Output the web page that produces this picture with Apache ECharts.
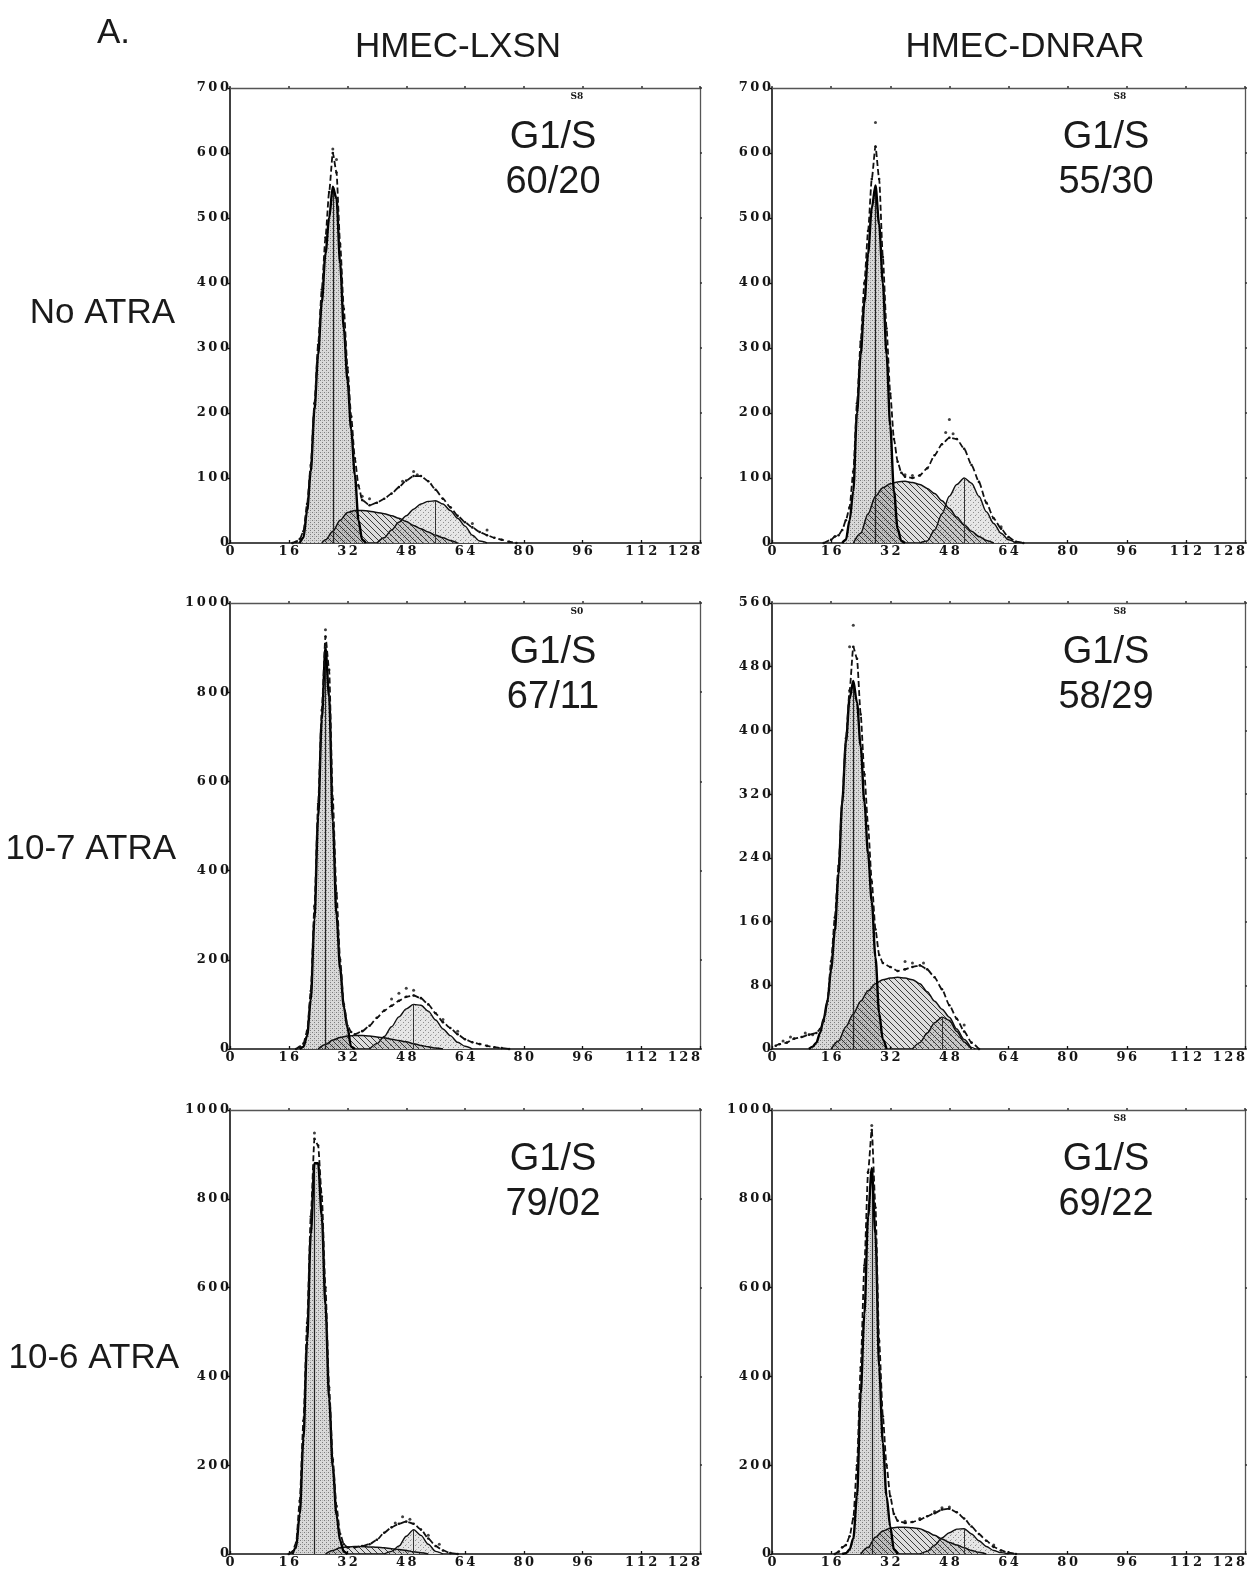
<!DOCTYPE html>
<html><head><meta charset="utf-8">
<script src="https://cdn.jsdelivr.net/npm/echarts@6/dist/echarts.min.js"></script>
<style>html,body{margin:0;padding:0;background:#fff}#c{width:1255px;height:1578px}</style>
</head><body><div id="c"></div>
<script>
// ---------- labels ----------
const xTickStep = 16;
const xMax = 128;
const columns = ['HMEC-LXSN', 'HMEC-DNRAR'];
const rows = ['No ATRA', '10-7 ATRA', '10-6 ATRA'];
const ratios = ['60/20', '55/30', '67/11', '58/29', '79/02', '69/22'];
const corner = ['S8', 'S8', 'S0', 'S8', '', 'S8'];
const yMax = [700, 700, 1000, 560, 1000, 1000];
const yStep = [100, 100, 200, 80, 200, 200];

// ---------- data: [channel, count] ----------
// HMEC-LXSN, No ATRA
const lxsnNo_g1 = [[19,0],[20,8],[21,50],[22,110],[23,205],[24,290],[25,370],[26,445],[27,500],[28,548],[29,530],[30,430],[31,330],[32,250],[33,175],[34,105],[35,35],[36,5],[37,0]];
const lxsnNo_s = [[25,0],[26,5],[28,18],[30,35],[32,47],[34,50],[36,50],[38,49],[40,47],[42,45],[44,42],[46,38],[48,33],[50,27],[52,22],[54,17],[56,12],[58,8],[60,4],[62,0]];
const lxsnNo_g2 = [[40,0],[42,8],[44,20],[46,32],[48,42],[50,52],[52,60],[54,64],[56,65],[58,60],[60,50],[62,38],[64,26],[66,12],[68,3],[70,0]];
const lxsnNo_fit = [[17,0],[18,2],[19,6],[20,18],[21,60],[22,120],[23,215],[24,305],[25,390],[26,470],[27,540],[28,600],[29,570],[30,460],[31,360],[32,270],[33,195],[34,130],[35,88],[36,66],[38,58],[40,62],[42,68],[44,76],[46,86],[48,96],[50,103],[52,103],[54,95],[56,82],[58,68],[60,55],[62,42],[64,32],[66,24],[68,17],[70,12],[72,8],[74,5],[76,2],[78,0]];
const lxsnNo_dots = [[28,606],[29,590],[50,110],[51,105],[47,95],[36,72],[38,68],[66,30],[70,20]];

// HMEC-DNRAR, No ATRA
const dnrarNo_g1 = [[19,0],[20,5],[21,35],[22,80],[23,200],[24,290],[25,370],[26,445],[27,515],[28,550],[29,490],[30,400],[31,290],[32,180],[33,80],[34,22],[35,3],[36,0]];
const dnrarNo_s = [[22,0],[24,15],[26,45],[28,72],[30,85],[32,91],[34,94],[36,95],[38,93],[40,90],[42,84],[44,76],[46,65],[48,53],[50,40],[52,28],[54,18],[56,10],[58,4],[60,0]];
const dnrarNo_g2 = [[40,0],[42,3],[44,20],[46,45],[48,72],[50,90],[52,100],[54,92],[56,72],[58,48],[60,30],[62,15],[64,5],[66,0]];
const dnrarNo_fit = [[14,0],[16,5],[17,10],[18,12],[19,20],[20,35],[21,55],[22,110],[23,215],[24,310],[25,400],[26,480],[27,560],[28,610],[29,560],[30,440],[31,330],[32,230],[33,160],[34,125],[35,108],[36,102],[38,100],[40,104],[42,115],[44,135],[46,152],[48,162],[50,160],[52,145],[54,120],[56,94],[58,62],[60,38],[62,22],[64,9],[66,2],[68,0]];
const dnrarNo_dots = [[28,647],[48,190],[47,170],[49,168],[36,105],[38,104],[62,25]];

// HMEC-LXSN, 10-7 ATRA
const lxsn7_g1 = [[19,0],[20,5],[21,30],[22,110],[23,290],[24,520],[25,740],[26,900],[27,790],[28,510],[29,300],[30,180],[31,95],[32,47],[33,5],[34,0]];
const lxsn7_s = [[24,0],[26,10],[28,20],[30,26],[32,29],[34,30],[36,30],[38,29],[40,27],[42,25],[44,22],[46,19],[48,16],[50,12],[52,8],[54,5],[56,2],[58,0]];
const lxsn7_g2 = [[38,0],[40,12],[42,28],[44,50],[46,72],[48,90],[50,100],[52,98],[54,85],[56,65],[58,45],[60,30],[62,15],[64,6],[66,0]];
const lxsn7_fit = [[18,0],[19,5],[20,12],[21,40],[22,130],[23,320],[24,550],[25,760],[26,925],[27,850],[28,560],[29,350],[30,200],[31,100],[32,52],[33,38],[34,33],[36,40],[38,52],[40,70],[42,86],[44,97],[46,108],[48,117],[50,120],[52,114],[54,100],[56,80],[58,60],[60,47],[62,33],[64,22],[66,15],[68,11],[70,7],[72,4],[74,2],[76,0]];
const lxsn7_dots = [[26,940],[48,136],[50,132],[46,125],[44,112],[58,66],[62,40]];

// HMEC-DNRAR, 10-7 ATRA
const dnrar7_g1 = [[10,0],[11,3],[12,8],[13,20],[14,38],[15,60],[16,100],[17,148],[18,220],[19,310],[20,385],[21,440],[22,462],[23,435],[24,380],[25,310],[26,245],[27,185],[28,115],[29,45],[30,12],[31,0]];
const dnrar7_s = [[16,0],[18,10],[20,28],[22,44],[24,60],[26,73],[28,82],[30,87],[32,89],[34,90],[36,89],[38,87],[40,82],[42,72],[44,60],[46,50],[48,40],[50,25],[52,12],[54,0]];
const dnrar7_g2 = [[38,0],[40,8],[42,20],[44,33],[46,40],[48,36],[50,22],[52,9],[54,2],[55,0]];
const dnrar7_fit = [[1,4],[2,6],[4,8],[6,13],[8,15],[10,18],[12,20],[13,25],[14,35],[15,60],[16,110],[17,165],[18,230],[19,310],[20,390],[21,450],[22,505],[23,490],[24,420],[25,345],[26,280],[27,210],[28,150],[29,118],[30,108],[32,103],[34,98],[36,100],[38,103],[40,105],[42,100],[44,90],[46,75],[48,55],[50,38],[52,22],[54,8],[56,0]];
const dnrar7_dots = [[22,532],[21,505],[3,10],[5,15],[9,20],[11,18],[36,110],[38,108],[41,108],[52,30]];

// HMEC-LXSN, 10-6 ATRA
const lxsn6_g1 = [[17,0],[18,15],[19,90],[20,260],[21,480],[22,720],[23,880],[24,880],[25,760],[26,560],[27,350],[28,195],[29,88],[30,30],[31,5],[32,0]];
const lxsn6_s = [[26,0],[28,8],[30,14],[32,16],[34,17],[36,17],[38,16],[40,15],[42,14],[44,12],[46,10],[48,8],[50,5],[52,3],[54,0]];
const lxsn6_g2 = [[42,0],[44,6],[46,18],[48,40],[50,55],[52,42],[54,22],[56,6],[58,0]];
const lxsn6_fit = [[16,0],[17,5],[18,25],[19,120],[20,300],[21,520],[22,760],[23,935],[24,920],[25,805],[26,600],[27,375],[28,212],[29,108],[30,45],[31,22],[32,15],[34,15],[36,18],[38,22],[40,32],[42,48],[44,60],[46,68],[48,73],[50,68],[52,55],[54,35],[56,18],[58,8],[60,2],[62,0]];
const lxsn6_dots = [[23,948],[47,84],[49,78],[45,70],[54,42],[57,22]];

// HMEC-DNRAR, 10-6 ATRA
const dnrar6_g1 = [[19,0],[20,2],[21,10],[22,35],[23,130],[24,360],[25,540],[26,760],[27,869],[28,720],[29,420],[30,250],[31,130],[32,62],[33,10],[34,0]];
const dnrar6_s = [[24,0],[26,15],[28,38],[30,52],[32,58],[34,60],[36,60],[38,59],[40,57],[42,50],[44,42],[46,34],[48,26],[50,20],[52,14],[54,8],[56,4],[58,0]];
const dnrar6_g2 = [[40,0],[42,6],[44,20],[46,36],[48,48],[50,56],[52,57],[54,45],[56,30],[58,17],[60,8],[62,3],[64,0]];
const dnrar6_fit = [[17,0],[18,5],[19,15],[20,20],[21,40],[22,80],[23,200],[24,420],[25,650],[26,860],[27,955],[28,780],[29,480],[30,310],[31,200],[32,130],[33,90],[34,75],[36,70],[38,72],[40,77],[42,85],[44,92],[46,100],[48,102],[50,94],[52,80],[54,62],[56,45],[58,30],[60,16],[62,8],[64,3],[66,0]];
const dnrar6_dots = [[27,965],[48,106],[46,104],[44,96],[36,74],[40,80],[60,20]];

const panels = [
  {g1: lxsnNo_g1, s: lxsnNo_s, g2: lxsnNo_g2, fit: lxsnNo_fit, dots: lxsnNo_dots},
  {g1: dnrarNo_g1, s: dnrarNo_s, g2: dnrarNo_g2, fit: dnrarNo_fit, dots: dnrarNo_dots},
  {g1: lxsn7_g1, s: lxsn7_s, g2: lxsn7_g2, fit: lxsn7_fit, dots: lxsn7_dots},
  {g1: dnrar7_g1, s: dnrar7_s, g2: dnrar7_g2, fit: dnrar7_fit, dots: dnrar7_dots},
  {g1: lxsn6_g1, s: lxsn6_s, g2: lxsn6_g2, fit: lxsn6_fit, dots: lxsn6_dots},
  {g1: dnrar6_g1, s: dnrar6_s, g2: dnrar6_g2, fit: dnrar6_fit, dots: dnrar6_dots}
];

// ---------- layout ----------
const colLeft = [230, 772];
const colWidth = [470, 473];
const rowTop = [88, 603, 1110];
const rowHeight = [455, 446, 444];

// ---------- patterns ----------
function makePattern(w, h, draw) {
  const c = document.createElement('canvas');
  c.width = w; c.height = h;
  const g = c.getContext('2d');
  draw(g);
  return {image: c, repeat: 'repeat'};
}
const patG1 = makePattern(4, 4, g => {
  g.fillStyle = '#d9d9d9'; g.fillRect(0, 0, 4, 4);
  g.fillStyle = '#7c7c7c'; g.fillRect(0, 0, 1, 1); g.fillRect(2, 2, 1, 1);
  g.fillStyle = '#b4b4b4'; g.fillRect(2, 0, 1, 1);
});
const patG2 = makePattern(5, 5, g => {
  g.fillStyle = '#e6e6e6'; g.fillRect(0, 0, 5, 5);
  g.fillStyle = '#8e8e8e'; g.fillRect(0, 0, 1, 1); g.fillRect(3, 2, 1, 1);
  g.fillStyle = '#b8b8b8'; g.fillRect(1, 4, 1, 1);
});
const patS = makePattern(6, 6, g => {
  g.fillStyle = 'rgba(0,0,0,0.13)'; g.fillRect(0, 0, 6, 6);
  g.fillStyle = 'rgba(30,30,30,0.85)';
  for (let k = 0; k < 6; k++) g.fillRect(k, k, 1, 1);
});

// spaced-out digits, like the wide bitmap font of the original
const spaced = v => String(v).split('').join('\u2009');
const labelFont = {fontFamily: 'DejaVu Serif', fontWeight: 'bold', fontSize: 13, color: '#151515', formatter: spaced};

const grids = [], xAxes = [], yAxes = [], series = [], graphics = [];
for (let i = 0; i < 6; i++) {
  const r = Math.floor(i / 2), c = i % 2;
  grids.push({left: colLeft[c], top: rowTop[r], width: colWidth[c], height: rowHeight[r], containLabel: false, outerBoundsMode: 'none'});
}
for (let i = 0; i < 6; i++) {
  xAxes.push({gridIndex: i, type: 'value', position: 'bottom', min: 0, max: xMax, interval: xTickStep,
    axisLine: {show: true, onZero: false, lineStyle: {color: '#111', width: 1.6}},
    axisTick: {show: true, inside: true, length: 3, lineStyle: {color: '#111', width: 1.3}},
    splitLine: {show: false},
    axisLabel: Object.assign({show: true, margin: 2, alignMaxLabel: 'right'}, labelFont)});
  yAxes.push({gridIndex: i, type: 'value', position: 'left', min: 0, max: yMax[i], interval: yStep[i],
    axisLine: {show: true, onZero: false, lineStyle: {color: '#111', width: 1.6}},
    axisTick: {show: true, length: 2, lineStyle: {color: '#111', width: 1.3}},
    splitLine: {show: false},
    axisLabel: Object.assign({show: true, margin: 1}, labelFont)});
}
for (let i = 0; i < 6; i++) {
  xAxes.push({gridIndex: i, type: 'value', position: 'top', min: 0, max: xMax, interval: xTickStep,
    axisLine: {show: true, onZero: false, lineStyle: {color: '#555', width: 1.3}},
    axisTick: {show: true, length: 2, lineStyle: {color: '#333', width: 1.5}},
    splitLine: {show: false}, axisLabel: {show: false}});
  yAxes.push({gridIndex: i, type: 'value', position: 'right', min: 0, max: yMax[i], interval: yStep[i],
    axisLine: {show: true, onZero: false, lineStyle: {color: '#555', width: 1.3}},
    axisTick: {show: true, length: 2, lineStyle: {color: '#333', width: 1.5}},
    splitLine: {show: false}, axisLabel: {show: false}});
}

function peakOf(arr) {
  let best = arr[0];
  arr.forEach(p => { if (p[1] > best[1]) best = p; });
  return best;
}

panels.forEach((d, i) => {
  const base = {xAxisIndex: i, yAxisIndex: i, silent: true, animation: false, showSymbol: false,
    smooth: 0.3, smoothMonotone: 'x'};
  const pk1 = peakOf(d.g1), pk2 = peakOf(d.g2);
  series.push(Object.assign({}, base, {type: 'line', data: d.g1, z: 2,
    lineStyle: {width: 0}, areaStyle: {color: patG1, opacity: 1}}));
  series.push(Object.assign({}, base, {type: 'line', data: d.g2, z: 3,
    lineStyle: {color: '#111', width: 1.4}, areaStyle: {color: patG2, opacity: 1},
    markLine: {silent: true, symbol: ['none', 'none'], label: {show: false},
      lineStyle: {color: '#333', width: 1, type: 'solid'},
      data: [[{coord: [pk2[0], 0]}, {coord: [pk2[0], pk2[1]]}]]}}));
  series.push(Object.assign({}, base, {type: 'line', data: d.s, z: 4,
    lineStyle: {color: '#111', width: 1.5}, areaStyle: {color: patS, opacity: 1}}));
  series.push(Object.assign({}, base, {type: 'line', data: d.g1, z: 5,
    lineStyle: {color: '#000', width: 2.4},
    markLine: {silent: true, symbol: ['none', 'none'], label: {show: false},
      lineStyle: {color: '#222', width: 1.2, type: 'solid'},
      data: [[{coord: [pk1[0], 0]}, {coord: [pk1[0], pk1[1]]}]]}}));
  series.push(Object.assign({}, base, {type: 'line', data: d.fit, z: 6, smooth: 0.2,
    showSymbol: true, symbol: 'circle', symbolSize: 2.6, itemStyle: {color: '#111'},
    lineStyle: {color: '#111', width: 1.8, type: [6, 3]}}));
  series.push({type: 'scatter', xAxisIndex: i, yAxisIndex: i, silent: true, animation: false, z: 7,
    data: d.dots, symbol: 'circle', symbolSize: 3, itemStyle: {color: '#111'}});

  const r = Math.floor(i / 2), c = i % 2;
  const cx = c === 0 ? 553 : 1106;
  const textStyle = (txt, x, y, font, align) => ({type: 'text', silent: true, z: 10,
    style: {text: txt, x: x, y: y, font: font, fill: '#1a1a1a',
      textAlign: align || 'center', textVerticalAlign: 'middle', align: align || 'center', verticalAlign: 'middle'}});
  graphics.push(textStyle('G1/S', cx, rowTop[r] + 50, '38px "Liberation Sans", Arial, sans-serif'));
  graphics.push(textStyle(ratios[i], cx, rowTop[r] + 95, '38px "Liberation Sans", Arial, sans-serif'));
  if (corner[i]) graphics.push(textStyle(corner[i], c === 0 ? 577 : 1120, rowTop[r] + 9, 'bold 9px "DejaVu Serif", serif'));
});

const bigFont = '35px "Liberation Sans", Arial, sans-serif';
const mkText = (txt, x, y, align) => ({type: 'text', silent: true, z: 10,
  style: {text: txt, x: x, y: y, font: bigFont, fill: '#1a1a1a',
    textAlign: align, textVerticalAlign: 'middle', align: align, verticalAlign: 'middle'}});
graphics.push(mkText('A.', 97, 33, 'left'));
graphics.push(mkText(columns[0], 458, 47, 'center'));
graphics.push(mkText(columns[1], 1025, 47, 'center'));
graphics.push(mkText(rows[0], 175, 313, 'right'));
graphics.push(mkText(rows[1], 176, 849, 'right'));
graphics.push(mkText(rows[2], 179, 1358, 'right'));

const chart = echarts.init(document.getElementById('c'), null, {renderer: 'canvas'});
chart.setOption({
  animation: false,
  backgroundColor: '#ffffff',
  grid: grids,
  xAxis: xAxes,
  yAxis: yAxes,
  series: series,
  graphic: {elements: graphics}
});
</script>
</body></html>
